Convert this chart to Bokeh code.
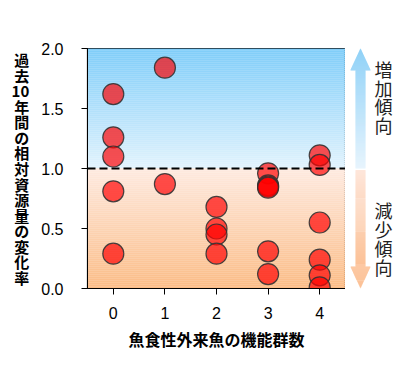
import numpy as np
from bokeh.plotting import figure
from bokeh.models import Span, Label, FixedTicker, Range1d, CustomJSTickFormatter
from bokeh.layouts import row
from bokeh.embed import file_html
from bokeh.resources import INLINE

# ---- data ----
groups = [0, 1, 2, 3, 4]
vals_0 = [1.62, 1.26, 1.10, 0.81, 0.29]
vals_1 = [1.84, 0.87]
vals_2 = [0.68, 0.50, 0.45, 0.29]
vals_3 = [0.96, 0.86, 0.85, 0.84, 0.31, 0.12]
vals_4 = [1.11, 1.03, 0.55, 0.24, 0.11, 0.01]
y_ticks = [0.0, 0.5, 1.0, 1.5, 2.0]
y_label = "過\n去\n10\n年\n間\nの\n相\n対\n資\n源\n量\nの\n変\n化\n率"
x_label = "魚食性外来魚の機能群数"
up_text = "増\n加\n傾\n向"
down_text = "減\n少\n傾\n向"

xs, ys = [], []
for g, vs in zip(groups, [vals_0, vals_1, vals_2, vals_3, vals_4]):
    xs += [g] * len(vs)
    ys += vs

JP = "Noto Sans CJK JP"
LAT = "Liberation Sans"

def hex2rgb(h):
    h = h.lstrip("#")
    return np.array([int(h[i:i + 2], 16) for i in (0, 2, 4)], float)

def lerp(c0, c1, t):
    a, b = hex2rgb(c0), hex2rgb(c1)
    c = a + (b - a) * t
    return "#%02x%02x%02x" % tuple(int(round(v)) for v in c)

TOP, BOTTOM, LEFT = 48, 83, 87
H = 371
y_range = Range1d(0.0, 2.0)

p = figure(width=345, height=H, x_range=(-0.5, 4.5), y_range=y_range,
           output_backend="svg", toolbar_location=None,
           min_border_left=LEFT, min_border_right=0, min_border_top=TOP, min_border_bottom=BOTTOM)
p.background_fill_color = None
p.border_fill_color = "white"
p.xgrid.visible = False
p.ygrid.visible = False
p.outline_line_color = "black"
p.outline_line_width = 1.2

# background gradients
n = 60
edges = np.linspace(1.0, 2.0, n + 1)
p.quad(left=-0.5, right=4.5, bottom=edges[:-1], top=edges[1:] + 0.002,
       fill_color=[lerp("#e2f3fd", "#7fcdf9", (i + 0.5) / n) for i in range(n)], line_color=None)
edges = np.linspace(0.0, 1.0, n + 1)
p.quad(left=-0.5, right=4.5, bottom=edges[:-1], top=edges[1:] + 0.002,
       fill_color=[lerp("#fbbc86", "#feeae0", (i + 0.5) / n) for i in range(n)], line_color=None)

p.add_layout(Span(location=1.0, dimension="width", line_color="black",
                  line_width=2, line_dash="8 4"))

p.scatter(xs, ys, size=21, fill_color="red", fill_alpha=0.68,
          line_color="#333333", line_width=1.2, line_alpha=0.9)

p.xaxis.ticker = FixedTicker(ticks=groups)
p.yaxis.ticker = FixedTicker(ticks=y_ticks)
p.yaxis.formatter = CustomJSTickFormatter(code="return tick.toFixed(1);")
for ax in (p.xaxis, p.yaxis):
    ax.minor_tick_line_color = None
    ax.major_tick_out = 6
    ax.major_tick_in = 0
    ax.major_tick_line_color = "black"
    ax.axis_line_color = "black"
    ax.major_label_text_font = LAT
    ax.major_label_text_font_size = "16px"
    ax.major_label_text_color = "black"
p.yaxis.major_label_standoff = 18
p.xaxis.major_label_standoff = 12
p.xaxis.axis_label = x_label
p.xaxis.axis_label_text_font = JP
p.xaxis.axis_label_text_font_style = "bold"
p.xaxis.axis_label_text_font_size = "16px"
p.xaxis.axis_label_text_color = "black"
p.xaxis.axis_label_standoff = 5

p.yaxis.axis_label = y_label
p.yaxis.axis_label_orientation = "horizontal"
p.yaxis.axis_label_text_font = JP
p.yaxis.axis_label_text_font_style = "bold"
p.yaxis.axis_label_text_font_size = "15px"
p.yaxis.axis_label_text_line_height = 0.74
p.yaxis.axis_label_text_color = "black"
p.yaxis.axis_label_standoff = 9

# right side arrows (row aligns this frame with the main frame)
W2 = 55
p2 = figure(width=W2, height=H, x_range=(0, W2), y_range=y_range,
            output_backend="svg", toolbar_location=None,
            min_border_left=0, min_border_right=0, min_border_top=TOP, min_border_bottom=BOTTOM)
p2.axis.visible = False
p2.grid.visible = False
p2.outline_line_color = None
p2.background_fill_color = "white"
p2.border_fill_color = "white"

cx = 15
m = 120
e = np.linspace(1.0, 2.0, m + 1)
mid = (e[:-1] + e[1:]) / 2
w = np.where(mid < 1.82, 5.0, 10.0 * (2.0 - mid) / 0.18)
p2.quad(left=cx - w, right=cx + w, bottom=e[:-1], top=e[1:] + 0.002,
        fill_color=[lerp("#e4f3fd", "#80cbf6", (i + 0.5) / m) for i in range(m)], line_color=None)
e = np.linspace(0.0, 0.985, m + 1)
mid = (e[:-1] + e[1:]) / 2
w = np.where(mid > 0.18, 5.0, 10.0 * mid / 0.18)
p2.quad(left=cx - w, right=cx + w, bottom=e[:-1], top=e[1:] + 0.002,
        fill_color=[lerp("#fbb886", "#fee6da", (i + 0.5) / m) for i in range(m)], line_color=None)

for txt, yy in ((up_text, 1.596), (down_text, 0.417)):
    p2.add_layout(Label(x=38, y=yy, text=txt, text_font=JP, text_font_size="18px",
                        text_align="center", text_baseline="middle", text_line_height=0.72,
                        text_color="#222222"))

layout = row(p, p2, spacing=0)
open("out.html", "w").write(file_html(layout, INLINE))
